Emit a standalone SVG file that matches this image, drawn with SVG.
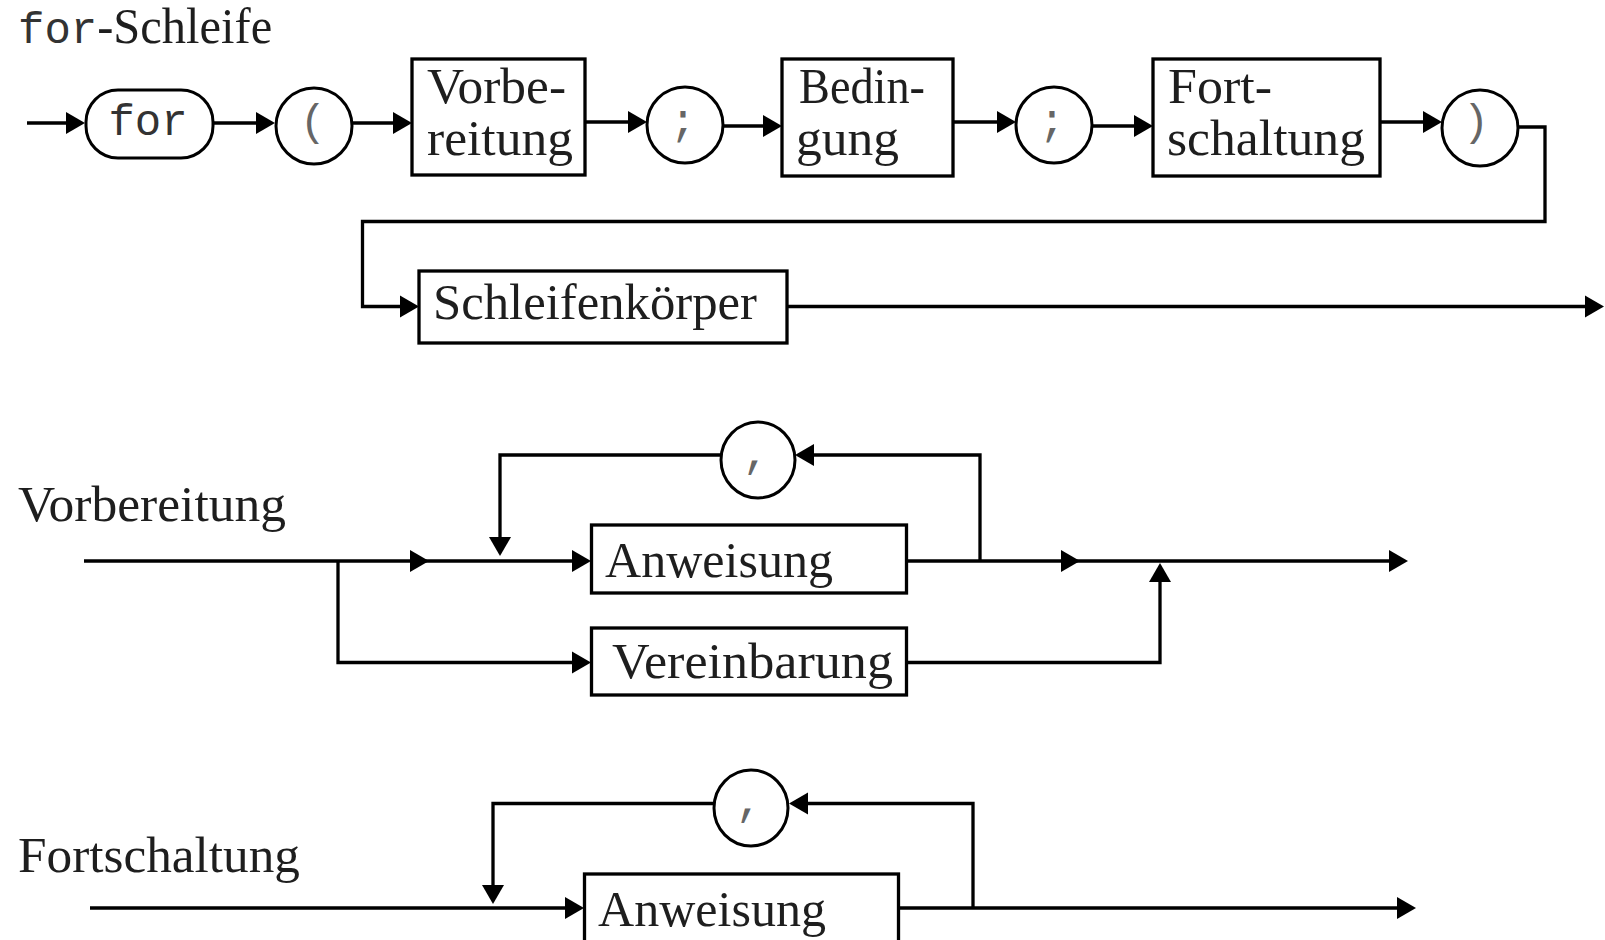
<svg xmlns="http://www.w3.org/2000/svg" xmlns:xlink="http://www.w3.org/1999/xlink" width="1605" height="940" viewBox="0 0 1605 940">
<style>
  .box { fill: #fff; stroke: #000; stroke-width: 3.3; }
  .term { fill: #fff; stroke: #000; stroke-width: 3; }
  .line { fill: none; stroke: #000; stroke-width: 3.3; stroke-linejoin: miter; }
  .serif { font-family: "Liberation Serif", "Times New Roman", serif; font-size: 50px; fill: #1e1e1e; }
  .mono { font-family: "Liberation Mono", "Courier New", monospace; font-size: 44px; fill: #333; }
  .tmono { font-family: "Liberation Mono", "Courier New", monospace; font-size: 44px; fill: #666; }
</style>
<defs>
  <path id="ah" d="M0,0 L-19,-11 L-19,11 Z" fill="#000"/>
</defs>
<rect width="1605" height="940" fill="#fff"/>

<!-- Titles -->
<g id="title-for">
  <text x="18" y="43"><tspan class="mono" font-size="43" fill="#333">for</tspan><tspan class="serif" textLength="175" lengthAdjust="spacingAndGlyphs">-Schleife</tspan></text>
</g>
<g id="title-vorbereitung">
  <text class="serif" x="18" y="521" textLength="268" lengthAdjust="spacingAndGlyphs">Vorbereitung</text>
</g>
<g id="title-fortschaltung">
  <text class="serif" x="18" y="872" textLength="282" lengthAdjust="spacingAndGlyphs">Fortschaltung</text>
</g>

<!-- Connectors -->
<g id="connectors">
  <!-- row 1 -->
  <path class="line" d="M27,123 H70"/>
  <use xlink:href="#ah" href="#ah" transform="translate(85,123)"/>
  <path class="line" d="M213,123 H260"/>
  <use xlink:href="#ah" href="#ah" transform="translate(275,123)"/>
  <path class="line" d="M352,123 H398"/>
  <use xlink:href="#ah" href="#ah" transform="translate(412,123)"/>
  <path class="line" d="M585,122 H632"/>
  <use xlink:href="#ah" href="#ah" transform="translate(647,122)"/>
  <path class="line" d="M723,126 H768"/>
  <use xlink:href="#ah" href="#ah" transform="translate(782,126)"/>
  <path class="line" d="M953,122 H1002"/>
  <use xlink:href="#ah" href="#ah" transform="translate(1016,122)"/>
  <path class="line" d="M1092,126 H1140"/>
  <use xlink:href="#ah" href="#ah" transform="translate(1153,126)"/>
  <path class="line" d="M1380,122 H1428"/>
  <use xlink:href="#ah" href="#ah" transform="translate(1442,122)"/>
  <path class="line" d="M1518,127 H1545 V221.5 H362.5 V306.5 H405"/>
  <use xlink:href="#ah" href="#ah" transform="translate(419,306.5)"/>
  <path class="line" d="M787,306.5 H1590"/>
  <use xlink:href="#ah" href="#ah" transform="translate(1604,306.5)"/>

  <!-- row 2 -->
  <path class="line" d="M84,561 H578"/>
  <use xlink:href="#ah" href="#ah" transform="translate(429,561)"/>
  <use xlink:href="#ah" href="#ah" transform="translate(591,561)"/>
  <path class="line" d="M338,561 V662.5 H578"/>
  <use xlink:href="#ah" href="#ah" transform="translate(591,662.5)"/>
  <path class="line" d="M721.5,455 H500 V540"/>
  <use xlink:href="#ah" href="#ah" transform="translate(500,556) rotate(90)"/>
  <path class="line" d="M906.5,561 H1395"/>
  <use xlink:href="#ah" href="#ah" transform="translate(1080,561)"/>
  <use xlink:href="#ah" href="#ah" transform="translate(1408,561)"/>
  <path class="line" d="M980,561 V455 H808"/>
  <use xlink:href="#ah" href="#ah" transform="translate(795,455) rotate(180)"/>
  <path class="line" d="M906.5,662.5 H1160 V578"/>
  <use xlink:href="#ah" href="#ah" transform="translate(1160,563) rotate(-90)"/>

  <!-- row 3 -->
  <path class="line" d="M90,908 H570"/>
  <use xlink:href="#ah" href="#ah" transform="translate(584,908)"/>
  <path class="line" d="M714,803.5 H493 V888"/>
  <use xlink:href="#ah" href="#ah" transform="translate(493,904) rotate(90)"/>
  <path class="line" d="M898.5,908 H1402"/>
  <use xlink:href="#ah" href="#ah" transform="translate(1416,908)"/>
  <path class="line" d="M973,908 V803.5 H802"/>
  <use xlink:href="#ah" href="#ah" transform="translate(789,803.5) rotate(180)"/>
</g>

<!-- Row 1 nodes -->
<g id="n-for">
  <rect class="term" x="86" y="90" width="127" height="68" rx="32" ry="32"/>
  <text class="mono" x="148" y="135" text-anchor="middle">for</text>
</g>
<g id="n-lparen">
  <ellipse class="term" cx="314" cy="126" rx="38" ry="38"/>
  <text class="tmono" x="313" y="135" text-anchor="middle">(</text>
</g>
<g id="n-vorbereitung">
  <rect class="box" x="412" y="59" width="173" height="116"/>
  <text class="serif" x="427" y="103" textLength="139" lengthAdjust="spacingAndGlyphs">Vorbe-</text>
  <text class="serif" x="427" y="155" textLength="146" lengthAdjust="spacingAndGlyphs">reitung</text>
</g>
<g id="n-semi1">
  <ellipse class="term" cx="685" cy="125" rx="38" ry="38"/>
  <text class="tmono" x="683" y="135" text-anchor="middle">;</text>
</g>
<g id="n-bedingung">
  <rect class="box" x="782" y="59" width="171" height="117"/>
  <text class="serif" x="799" y="103" textLength="126" lengthAdjust="spacingAndGlyphs">Bedin-</text>
  <text class="serif" x="796" y="155" textLength="103" lengthAdjust="spacingAndGlyphs">gung</text>
</g>
<g id="n-semi2">
  <ellipse class="term" cx="1054" cy="125" rx="38" ry="38"/>
  <text class="tmono" x="1052" y="135" text-anchor="middle">;</text>
</g>
<g id="n-fortschaltung">
  <rect class="box" x="1153" y="59" width="227" height="117"/>
  <text class="serif" x="1168" y="103" textLength="104" lengthAdjust="spacingAndGlyphs">Fort-</text>
  <text class="serif" x="1167" y="155" textLength="198" lengthAdjust="spacingAndGlyphs">schaltung</text>
</g>
<g id="n-rparen">
  <ellipse class="term" cx="1480" cy="128" rx="38" ry="38"/>
  <text class="tmono" x="1476" y="135" text-anchor="middle">)</text>
</g>
<g id="n-schleifenkoerper">
  <rect class="box" x="419" y="271" width="368" height="72"/>
  <text class="serif" x="433" y="319" textLength="324" lengthAdjust="spacingAndGlyphs">Schleifenkörper</text>
</g>

<!-- Row 2 nodes -->
<g id="n-comma1">
  <ellipse class="term" cx="758" cy="460" rx="37" ry="38"/>
  <text class="tmono" x="756" y="467" text-anchor="middle">,</text>
</g>
<g id="n-anweisung1">
  <rect class="box" x="591.5" y="525" width="315" height="68"/>
  <text class="serif" x="605" y="577" textLength="228" lengthAdjust="spacingAndGlyphs">Anweisung</text>
</g>
<g id="n-vereinbarung">
  <rect class="box" x="591.5" y="628" width="315" height="67"/>
  <text class="serif" x="612" y="678" textLength="281" lengthAdjust="spacingAndGlyphs">Vereinbarung</text>
</g>

<!-- Row 3 nodes -->
<g id="n-comma2">
  <ellipse class="term" cx="751" cy="808" rx="37" ry="38"/>
  <text class="tmono" x="749" y="815" text-anchor="middle">,</text>
</g>
<g id="n-anweisung2">
  <rect class="box" x="584.5" y="874" width="314" height="90"/>
  <text class="serif" x="598" y="926" textLength="228" lengthAdjust="spacingAndGlyphs">Anweisung</text>
</g>
</svg>
